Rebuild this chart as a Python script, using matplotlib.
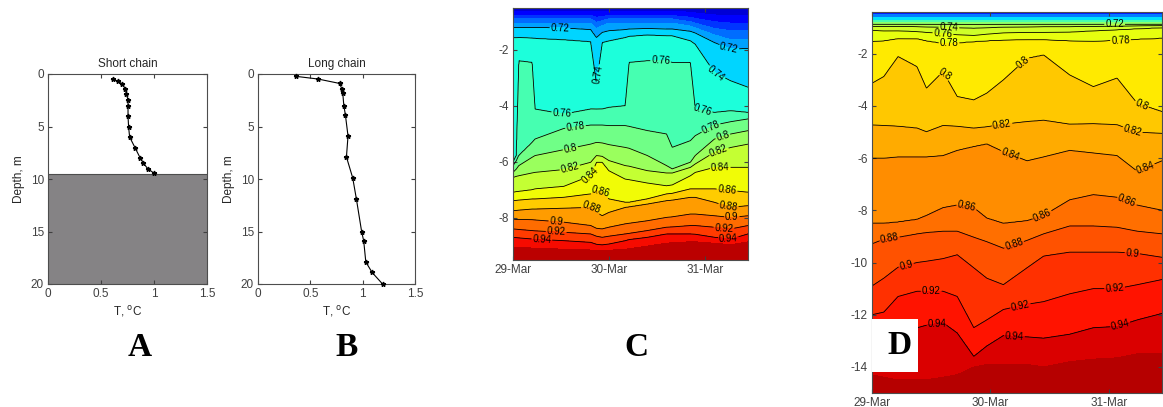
import numpy as np
import matplotlib
matplotlib.use("Agg")
import matplotlib.pyplot as plt
from matplotlib.patches import Rectangle

plt.rcParams["font.family"] = ["Liberation Sans", "DejaVu Sans"]
plt.rcParams["axes.unicode_minus"] = False

# ---- panel A / B : temperature profiles ----
A_TEMP = [0.61, 0.66, 0.70, 0.73, 0.74, 0.755, 0.755, 0.755, 0.76, 0.77, 0.82, 0.87, 0.90, 0.94, 1.0]
A_DEPTH = [0.5, 0.7, 0.95, 1.45, 1.9, 2.5, 3.0, 4.0, 5.0, 6.0, 7.0, 8.0, 8.5, 9.0, 9.45]
A_BOTTOM = 9.5
B_TEMP = [0.36, 0.575, 0.78, 0.80, 0.81, 0.82, 0.835, 0.86, 0.845, 0.905, 0.94, 0.99, 1.01, 1.03, 1.09, 1.19]
B_DEPTH = [0.22, 0.48, 0.9, 1.4, 1.85, 3.0, 3.9, 5.9, 7.9, 9.9, 11.9, 15.0, 15.9, 17.9, 18.9, 20.0]

DAY_LABELS = ["29-Mar", "30-Mar", "31-Mar"]

# ---- panel C : isotherm depths (m) vs time (days since 29-Mar) ----
C_TIME = [0, 0.035, 0.06, 0.2, 0.23, 0.53, 0.81, 0.87, 0.93, 1.0,
          1.17, 1.21, 1.4, 1.6, 1.66, 1.85, 1.9, 2.1, 2.27, 2.45]
C_LEVELS = [0.64, 0.66, 0.68, 0.70, 0.72, 0.74, 0.76, 0.78, 0.80, 0.82,
            0.84, 0.86, 0.88, 0.90, 0.92, 0.94, 0.96]
C_LINE_LEVELS = [0.72, 0.74, 0.76, 0.78, 0.80, 0.82, 0.84, 0.86, 0.88, 0.90, 0.92, 0.94]
C_DEPTHS = [
    [-0.63] * 15 + [-0.65, -0.68, -0.75, -0.77, -0.77],
    [-0.77] * 7 + [-0.83, -0.80] + [-0.77] * 6 + [-0.83, -0.87, -0.99, -1.04, -1.04],
    [-0.89] * 7 + [-1.01, -0.95] + [-0.89] * 6 + [-0.99, -1.04, -1.23, -1.31, -1.31],
    [-1.04] * 7 + [-1.23, -1.13] + [-1.04] * 6 + [-1.15, -1.21, -1.46, -1.63, -1.61],
    [-1.19, -1.19, -1.19, -1.19, -1.19, -1.21, -1.27, -1.55, -1.37, -1.31,
     -1.27, -1.25, -1.23, -1.25, -1.25, -1.33, -1.39, -1.73, -1.96, -1.94],
    [-1.55, -1.55, -1.55, -1.57, -1.58, -1.63, -1.70, -3.21, -1.73, -1.67,
     -1.55, -1.51, -1.46, -1.49, -1.49, -1.67, -1.79, -2.80, -3.10, -3.33],
    [-6.01, -5.77, -2.38, -2.44, -4.11, -4.29, -4.11, -4.11, -4.11, -4.05,
     -3.99, -2.44, -2.38, -2.38, -2.44, -2.44, -4.11, -4.23, -4.17, -4.23],
    [-6.13, -5.95, -5.77, -5.30, -5.18, -4.80, -4.68, -4.68, -4.68, -4.70,
     -4.70, -4.73, -4.88, -5.00, -5.48, -5.24, -5.06, -4.68, -4.56, -4.46],
    [-6.37, -6.25, -6.13, -5.83, -5.77, -5.56, -5.36, -5.30, -5.32, -5.38,
     -5.48, -5.51, -5.77, -6.13, -6.25, -6.01, -5.77, -5.18, -5.00, -4.88],
    [-6.55, -6.51, -6.49, -6.39, -6.37, -6.27, -6.01, -5.77, -5.80, -5.95,
     -6.13, -6.15, -6.31, -6.39, -6.39, -6.19, -6.07, -5.65, -5.48, -5.36],
    [-7.08, -7.06, -7.05, -6.99, -6.96, -6.87, -6.49, -6.01, -6.01, -6.31,
     -6.61, -6.63, -6.75, -6.85, -6.82, -6.49, -6.37, -6.19, -6.19, -6.19],
    [-7.38, -7.37, -7.36, -7.32, -7.32, -7.26, -7.14, -7.02, -7.08, -7.32,
     -7.44, -7.44, -7.32, -7.14, -7.12, -6.96, -6.96, -6.96, -7.02, -7.08],
    [-7.74, -7.73, -7.72, -7.68, -7.68, -7.65, -7.62, -7.80, -7.92, -7.80,
     -7.62, -7.60, -7.50, -7.38, -7.36, -7.26, -7.26, -7.44, -7.62, -7.56],
    [-8.04, -8.05, -8.05, -8.06, -8.07, -8.15, -8.27, -8.37, -8.39, -8.33,
     -8.21, -8.19, -8.10, -7.98, -7.96, -7.86, -7.86, -7.92, -7.98, -7.92],
    [-8.39, -8.40, -8.41, -8.45, -8.46, -8.51, -8.57, -8.65, -8.69, -8.65,
     -8.57, -8.55, -8.45, -8.33, -8.32, -8.27, -8.27, -8.33, -8.39, -8.27],
    [-8.69, -8.70, -8.71, -8.75, -8.76, -8.81, -8.87, -8.94, -8.96, -8.93,
     -8.81, -8.77, -8.69, -8.57, -8.57, -8.57, -8.58, -8.69, -8.75, -8.57],
    [-9.05, -9.05, -9.05, -9.07, -9.08, -9.11, -9.14, -9.17, -9.17, -9.15,
     -9.11, -9.10, -9.00, -8.90, -8.88, -8.85, -8.85, -8.90, -8.95, -8.85],
]

# ---- panel D ----
D_TIME = [0, 0.1, 0.22, 0.38, 0.46, 0.6, 0.72, 0.86, 0.97, 1.11,
          1.31, 1.45, 1.67, 1.87, 2.07, 2.24, 2.45]
D_LEVELS = [0.50, 0.56, 0.62, 0.68, 0.72, 0.74, 0.76, 0.78, 0.80, 0.82,
            0.84, 0.86, 0.88, 0.90, 0.92, 0.94, 0.96]
D_LINE_LEVELS = [0.72, 0.74, 0.76, 0.78, 0.80, 0.82, 0.84, 0.86, 0.88, 0.90, 0.92, 0.94]
D_DEPTHS = [
    [-0.50] * 17,
    [-0.59] * 17,
    [-0.69] * 17,
    [-0.80] * 17,
    [-0.87] * 17,
    [-0.95, -0.95, -0.95, -0.96, -0.97, -0.98, -1.0, -1.02, -1.0, -0.98, -0.97, -0.96, -0.96, -0.95, -0.94, -0.93, -0.92],
    [-1.1, -1.12, -1.12, -1.15, -1.18, -1.22, -1.27, -1.3, -1.25, -1.2, -1.18, -1.18, -1.17, -1.12, -1.08, -1.04, -1.0],
    [-1.53, -1.5, -1.42, -1.42, -1.5, -1.6, -1.58, -1.53, -1.5, -1.47, -1.46, -1.46, -1.5, -1.52, -1.48, -1.44, -1.4],
    [-3.13, -2.87, -2.10, -2.49, -3.32, -2.68, -3.64, -3.77, -3.51, -3.0, -2.17, -2.04, -2.81, -3.26, -2.93, -3.9, -4.22],
    [-4.73, -4.75, -4.78, -4.85, -4.99, -4.75, -4.78, -4.85, -4.8, -4.7, -4.6, -4.55, -4.7, -4.68, -4.72, -5.0, -5.05],
    [-6.0, -6.0, -5.95, -5.95, -5.95, -5.9, -5.7, -5.55, -5.45, -5.75, -6.1, -5.95, -5.7, -5.8, -5.9, -6.5, -6.1],
    [-8.5, -8.5, -8.45, -8.35, -8.2, -7.9, -7.8, -7.9, -8.3, -8.5, -8.4, -8.2, -7.6, -7.4, -7.5, -7.8, -8.0],
    [-9.28, -9.1, -9.03, -8.9, -8.85, -8.8, -8.8, -9.03, -9.2, -9.45, -9.15, -8.9, -8.6, -8.6, -8.65, -8.8, -8.9],
    [-10.9, -10.6, -10.18, -10.0, -9.95, -9.85, -9.7, -10.2, -10.6, -10.85, -10.2, -9.75, -9.6, -9.6, -9.6, -9.65, -9.8],
    [-12.0, -11.9, -11.3, -11.1, -11.1, -11.1, -11.3, -12.5, -12.2, -11.8, -11.6, -11.5, -11.2, -11.0, -11.0, -10.85, -10.65],
    [-13.3, -13.2, -13.0, -12.5, -12.4, -12.3, -12.7, -13.6, -13.2, -12.8, -12.85, -12.9, -12.75, -12.5, -12.45, -12.2, -11.95],
    [-14.3, -14.4, -14.5, -14.5, -14.5, -14.4, -14.3, -14.0, -13.9, -13.9, -13.9, -14.0, -13.8, -13.7, -13.65, -13.5, -13.5],
]

# where the contour labels sit (time, depth), as in the original figure
C_LABEL_AT = [(0.49, -1.25), (2.25, -1.95), (0.93, -2.9), (2.09, -3.0),
              (0.51, -4.25), (1.97, -4.25), (1.54, -2.4), (0.65, -4.7),
              (2.06, -4.75), (0.6, -5.55), (2.18, -5.0), (0.6, -6.3),
              (2.14, -5.55), (0.86, -6.6), (2.16, -6.2), (0.89, -7.3),
              (2.23, -7.05), (0.82, -7.62), (2.25, -7.55), (0.45, -8.12),
              (2.28, -7.93), (0.45, -8.48), (2.2, -8.34), (0.3, -8.75),
              (2.25, -8.62)]
D_LABEL_AT = [(2.05, -0.87), (0.65, -0.97), (0.6, -1.2), (0.65, -1.55),
              (2.1, -1.5), (0.6, -2.8), (1.35, -2.7), (2.28, -3.9),
              (1.1, -4.75), (2.2, -4.95), (1.2, -5.6), (2.3, -6.3),
              (0.8, -7.9), (1.45, -8.3), (2.15, -7.7), (0.15, -9.2),
              (1.2, -9.3), (0.3, -10.3), (2.2, -9.65), (0.5, -11.1),
              (1.25, -11.6), (2.05, -11.0), (0.55, -12.35), (1.2, -13.1),
              (2.1, -12.45)]

W, H = 1163, 407


def box(l, t, r, b):
    """pixel box -> figure fraction rect"""
    return [l / W, 1 - b / H, (r - l) / W, (b - t) / H]


def matlab_ticks(ax):
    ax.tick_params(direction="in", top=True, right=True, length=3,
                   labelsize=8.5, colors="0.25", pad=3)
    for s in ax.spines.values():
        s.set_color("0.3")
        s.set_linewidth(0.8)


def profile(ax, temp, depth, title):
    ax.plot(temp, depth, "-", color="k", lw=0.8, marker="*", ms=3.5, clip_on=False, zorder=3)
    ax.set_xlim(0, 1.5)
    ax.set_ylim(20, 0)
    ax.set_xticks([0, 0.5, 1, 1.5])
    ax.set_xticklabels(["0", "0.5", "1", "1.5"])
    ax.set_yticks([0, 5, 10, 15, 20])
    ax.set_title(title, fontsize=8.5, pad=5, color="0.15")
    ax.set_ylabel("Depth, m", fontsize=8.5, color="0.15", labelpad=4)
    ax.set_xlabel("T, $^{\\mathrm{o}}$C", fontsize=8.5, color="0.15", labelpad=3)
    matlab_ticks(ax)


def build_field(t_nodes, levels, depths, top, bottom, nt=500, nz=500):
    t = np.linspace(t_nodes[0], t_nodes[-1], nt)
    z = np.linspace(bottom[0], top[0], nz)
    iso = np.array([np.interp(t, t_nodes, d) for d in depths])
    field = np.empty((nz, nt))
    for j in range(nt):
        zp = np.concatenate([[bottom[0]], iso[::-1, j], [top[0]]])
        zp = np.maximum.accumulate(zp + np.arange(zp.size) * 1e-6)
        vp = np.concatenate([[bottom[1]], levels[::-1], [top[1]]])
        field[:, j] = np.interp(z, zp, vp)
    return t, z, field


def contour_panel(ax, t_nodes, levels, line_levels, depths, top, bottom,
                  vmin, vmax, ylim, yticks, label_at):
    t, z, field = build_field(t_nodes, np.array(levels), depths, top, bottom)
    bounds = [round(top[1] - 0.005, 3)] + list(levels) + [0.98]
    ax.contourf(t, z, field, levels=bounds, cmap="jet", vmin=vmin, vmax=vmax)
    cs = ax.contour(t, z, field, levels=line_levels, colors="k", linewidths=0.6)
    ax.set_xlim(0, 2.45)
    ax.set_ylim(*ylim)
    ax.clabel(cs, fmt=lambda v: f"{v:g}", fontsize=7, inline=True,
              inline_spacing=1, manual=label_at)
    ax.set_xticks([0, 1, 2])
    ax.set_xticklabels(DAY_LABELS)
    ax.set_yticks(yticks)
    matlab_ticks(ax)


fig = plt.figure(figsize=(W / 100, H / 100), dpi=100)

axA = fig.add_axes(box(48, 74, 207, 284))
axA.axhspan(A_BOTTOM, 20, facecolor="#858385", edgecolor="none")
axA.axhline(A_BOTTOM, color="0.3", lw=0.8)
profile(axA, A_TEMP, A_DEPTH, "Short chain")

axB = fig.add_axes(box(258, 74, 415, 284))
profile(axB, B_TEMP, B_DEPTH, "Long chain")

axC = fig.add_axes(box(513, 8, 748, 260))
contour_panel(axC, C_TIME, C_LEVELS, C_LINE_LEVELS, C_DEPTHS,
              top=(-0.45, 0.625), bottom=(-9.55, 0.975),
              vmin=0.6, vmax=0.99, ylim=(-9.5, -0.5), yticks=[-8, -6, -4, -2],
              label_at=C_LABEL_AT)

axD = fig.add_axes(box(872, 12, 1162, 393))
contour_panel(axD, D_TIME, D_LEVELS, D_LINE_LEVELS, D_DEPTHS,
              top=(-0.3, 0.445), bottom=(-15.2, 0.975),
              vmin=0.375, vmax=1.0, ylim=(-15, -0.4),
              yticks=[-14, -12, -10, -8, -6, -4, -2], label_at=D_LABEL_AT)

fig.add_artist(Rectangle((872 / W, 1 - 372 / H), 46 / W, 53 / H,
                         transform=fig.transFigure, facecolor="white",
                         edgecolor="none", zorder=5))

letter = dict(fontsize=24, fontweight="bold", family="Liberation Serif",
              ha="center", va="center", zorder=6)
for txt, x, y in [("A", 140, 348), ("B", 347, 348), ("C", 636, 348), ("D", 900, 346)]:
    fig.text(x / W, 1 - y / H, txt, **letter)

fig.savefig("out.png", dpi=100)
